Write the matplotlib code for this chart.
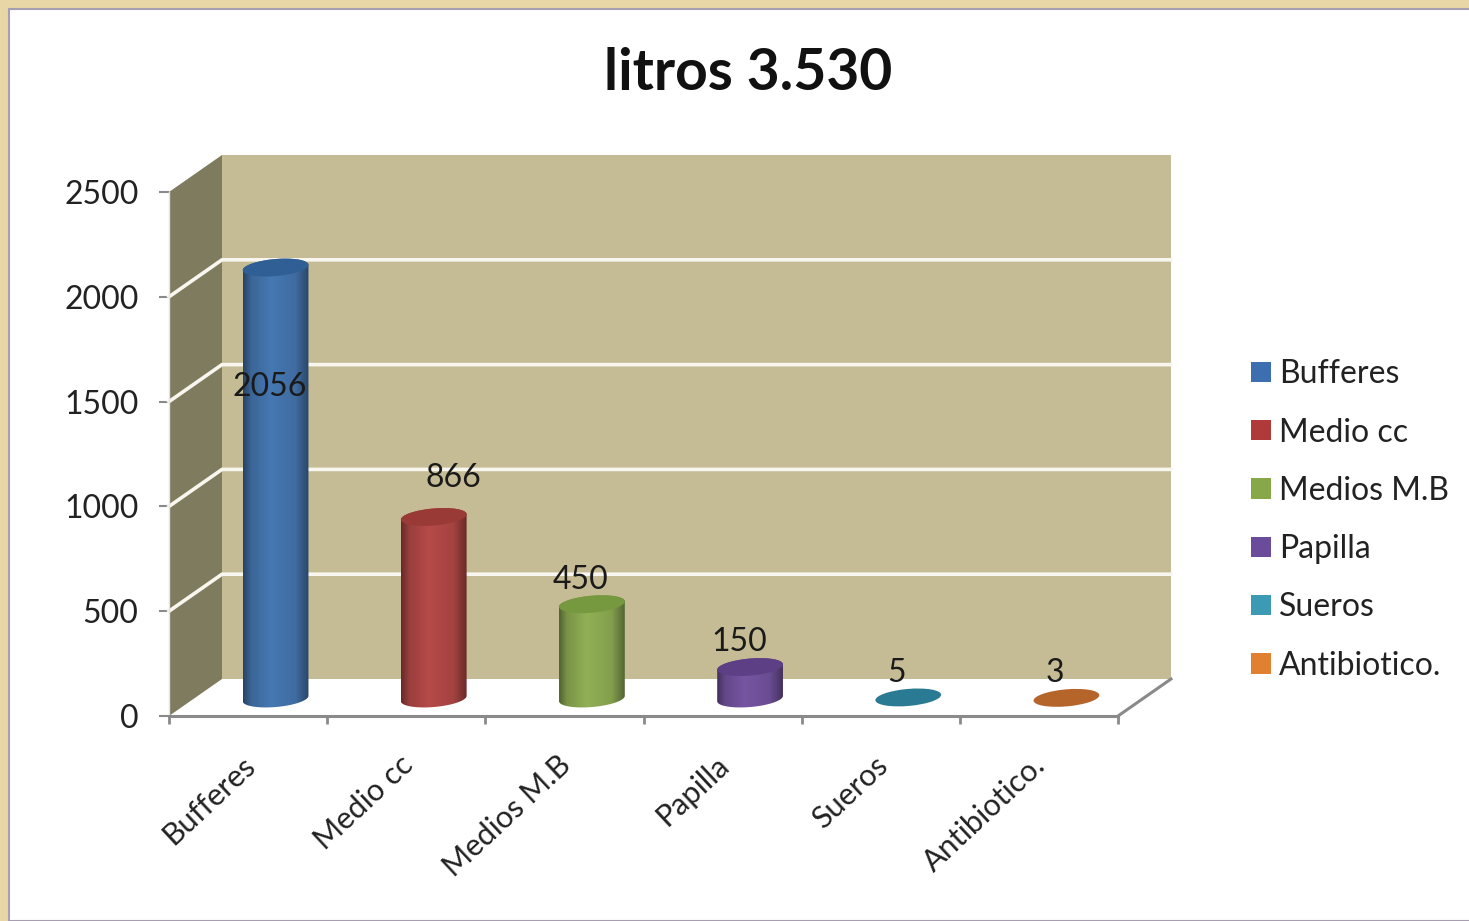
import numpy as np
import matplotlib
matplotlib.use("Agg")
import matplotlib.pyplot as plt
from matplotlib.patches import Rectangle, Polygon, Ellipse, Patch
from matplotlib.path import Path
from matplotlib.transforms import IdentityTransform, Affine2D
from matplotlib.colors import to_rgb

plt.rcParams['font.family'] = ['Lato', 'DejaVu Sans']

title = "litros 3.530"
categories = ["Bufferes", "Medio cc", "Medios M.B", "Papilla", "Sueros", "Antibiotico."]
values = [2056, 866, 450, 150, 5, 3]
body_colors = ["#4678b3", "#b64a48", "#91b055", "#7655a2", "#3c9ab5", "#e08030"]
top_colors = ["#2f5f94", "#9a3a36", "#76983f", "#5c3f85", "#2a7a94", "#b5652a"]
legend_colors = ["#3d6fb0", "#b03a3a", "#87a848", "#6b4c9a", "#3c9ab5", "#e08030"]
label_offsets = [(-5, -120), (21, 38), (-10, 23), (-10, 24), (-11, 23), (-11, 24)]
y_ticks = [0, 500, 1000, 1500, 2000, 2500]

W, H = 1469, 921
fig = plt.figure(figsize=(W / 100, H / 100), dpi=100, facecolor="#e8d6a6")
fig.patches.append(Rectangle((9 / W, 0), 1, 1 - 9 / H, transform=fig.transFigure,
                             facecolor="white", edgecolor="#a79fb0", linewidth=1.5, zorder=-1))

ax = fig.add_axes([169 / W, 1 - 716 / H, 949 / W, 524 / H], facecolor="none")
ax.set_xlim(0, len(categories))
ax.set_ylim(0, 2500)
for s in ("top", "right"):
    ax.spines[s].set_visible(False)
ax.spines["left"].set_color("#e4e4e4")
ax.spines["left"].set_linewidth(1)
ax.spines["bottom"].set_color("#8a8a8a")
ax.spines["bottom"].set_linewidth(2.2)

ax.set_yticks(y_ticks)
ax.set_yticklabels([str(v) for v in y_ticks], fontsize=23, color="#222222")
ax.tick_params(axis="y", length=7, width=1.5, color="#8a8a8a", pad=15)
ax.set_xticks(range(len(categories) + 1))
ax.set_xticklabels([])
ax.tick_params(axis="x", which="major", length=6, width=2, color="#8a8a8a")
ax.set_xticks(np.arange(len(categories)) + 0.5, minor=True)
ax.set_xticklabels(categories, minor=True, rotation=43, ha="right", va="top",
                   rotation_mode="anchor", fontsize=22, color="#222222")
ax.tick_params(axis="x", which="minor", length=0, pad=25)
for lbl in ax.get_xticklabels(minor=True):
    lbl.set_transform(lbl.get_transform() + Affine2D().translate(-7, 0))

DX, DY = 53, 37
disp = IdentityTransform()


def front(x, y):
    return ax.transData.transform((x, y))


def back(x, y):
    return front(x, y) + np.array([DX, DY])


def mid(x, y):
    return front(x, y) + np.array([DX / 2 + 1, DY / 2 - 1])


nc = len(categories)
ax.add_patch(Polygon([front(0, 0), back(0, 0), back(0, 2500), front(0, 2500)], transform=disp,
                     facecolor="#7e7b5e", edgecolor="none", zorder=1, clip_on=False))
ax.add_patch(Polygon([back(0, 0), back(nc, 0), back(nc, 2500), back(0, 2500)], transform=disp,
                     facecolor="#c5bc95", edgecolor="none", zorder=1, clip_on=False))
for v in y_ticks[1:-1]:
    pts = np.array([front(0, v), back(0, v), back(nc, v)])
    ax.plot(pts[:, 0], pts[:, 1], transform=disp, color="#f8f6ee", lw=2.6, zorder=2, clip_on=False)
pts = np.array([front(nc, 0), back(nc, 0)])
ax.plot(pts[:, 0], pts[:, 1], transform=disp, color="#8a8a8a", lw=2.2, zorder=2, clip_on=False)

RX, RY, ANG = 33, 8.5, np.radians(5)
stops = [0, 0.12, 0.42, 0.8, 1]
shade = [0.56, 0.84, 1.0, 0.9, 0.58]


def arc(c, t0, t1):
    t = np.linspace(t0, t1, 60)
    x, y = RX * np.cos(t), RY * np.sin(t)
    return np.column_stack([c[0] + x * np.cos(ANG) - y * np.sin(ANG),
                            c[1] + x * np.sin(ANG) + y * np.cos(ANG)])


for i, (val, bc, tc) in enumerate(zip(values, body_colors, top_colors)):
    xc = i + 0.5
    base = mid(xc, 0)
    top = mid(xc, val)
    if val >= 50:
        poly = np.vstack([arc(base, np.pi, 2 * np.pi), arc(top, 0, np.pi)])
        grad = np.interp(np.linspace(0, 1, 120), stops, shade)[None, :, None] * np.array(to_rgb(bc))
        im = ax.imshow(np.clip(grad, 0, 1), aspect="auto", zorder=3, interpolation="bilinear",
                       extent=(base[0] - RX, base[0] + RX, poly[:, 1].min() - 2, poly[:, 1].max() + 2),
                       transform=disp, origin="lower")
        im.set_clip_path(Path(np.vstack([poly, poly[0]]), closed=True), transform=disp)
    ax.add_patch(Ellipse(top, 2 * RX, 2 * RY, angle=np.degrees(ANG), transform=disp,
                         facecolor=tc, edgecolor="none", zorder=4, clip_on=False))
    off = label_offsets[i]
    ax.annotate(str(val), xy=(xc, val), xycoords="data",
                xytext=(DX / 2 + off[0], DY / 2 + off[1]), textcoords="offset pixels",
                ha="center", va="center", fontsize=23, color="#1a1a1a", zorder=6, annotation_clip=False)

ax.set_xlim(0, nc)
ax.set_ylim(0, 2500)

fig.text(748 / W, 1 - 74 / H, title, ha="center", va="center", fontsize=41, fontweight="bold", color="#111111")

handles = [Patch(facecolor=c, edgecolor="none") for c in legend_colors]
fig.legend(handles, categories, loc="center left", bbox_to_anchor=(1251 / W, 1 - 520 / H),
           frameon=False, fontsize=23, labelcolor="#222222", handlelength=0.63, handleheight=0.6,
           handletextpad=0.24, labelspacing=0.886, borderpad=0, borderaxespad=0)

fig.savefig("out.png", dpi=100, facecolor=fig.get_facecolor())
